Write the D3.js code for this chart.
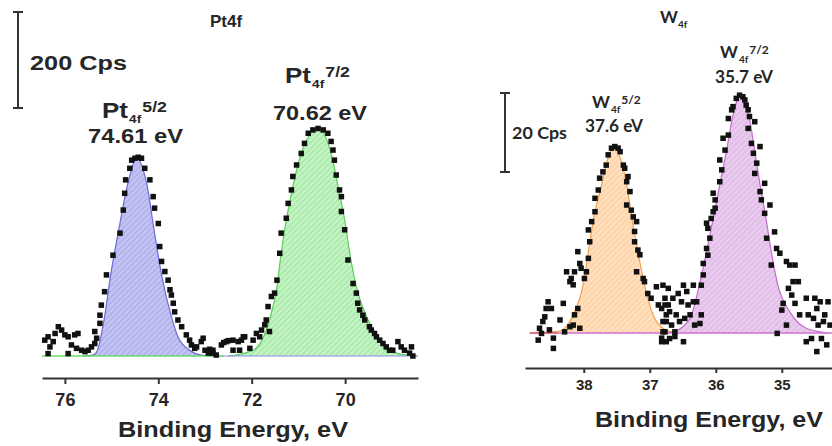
<!DOCTYPE html>
<html><head><meta charset="utf-8">
<script src="https://cdn.jsdelivr.net/npm/d3@7"></script>
<style>
body{margin:0;background:#fff;}
svg{display:block;}
text{font-family:Arial,"Liberation Sans",sans-serif;font-weight:bold;fill:#262626;}
.cal{font-family:Lato,"Open Sans",sans-serif;}
</style></head><body>
<svg id="c" width="832" height="446"></svg>
<script>
// ---------- Pt4f panel data (x: binding energy eV, y: counts above baseline, cps) ----------
const ptTicks = [76, 74, 72, 70];
const ptDomain = [76.49, 68.44];
const ptScaleBar = 200; // cps
const ptPoints = [
[76.43,33],[76.36,40],[76.32,19],[76.25,30],[76.21,47],[76.14,61],[76.07,54],[76.00,44],[75.93,40],[75.86,23],[75.79,44],[75.72,47],
[76.36,5],[75.93,5],[75.75,16],[75.64,12],[75.57,9],[75.50,12],[75.43,19],[75.36,26],[75.32,37],[75.36,51],
[75.25,68],[75.25,85],[75.22,106],[75.15,134],[75.11,169],[74.97,210],[74.82,256],[74.75,304],[74.72,339],[74.70,367],
[74.61,391],[74.57,408],[74.50,412],[74.43,414],[74.36,412],[74.29,391],[74.18,367],[74.11,332],[74.08,308],[74.00,276],
[73.97,228],[73.93,197],[73.86,176],[73.79,158],[73.75,138],[73.72,127],[73.68,110],[73.65,92],[73.58,75],[73.50,61],
[73.40,44],[73.33,33],[73.29,23],[73.22,16],[73.18,19],[73.08,30],[73.00,12],[72.93,6],[72.83,12],[72.76,2],[72.65,23],
[72.54,30],[72.40,12],[72.29,30],[72.18,40],[73.04,37],[72.90,14],[72.83,6],[72.60,28],[72.50,32],[72.40,33],[72.26,12],
[72.22,33],[72.15,40],[72.04,16],[71.97,33],[71.90,47],[71.83,40],[71.79,54],[71.72,65],[71.69,75],[71.62,51],
[71.65,103],[71.58,124],[71.51,131],[71.46,158],[71.40,214],[71.37,256],[71.26,287],[71.22,318],[71.15,346],[71.12,374],
[71.04,398],[70.94,422],[70.87,443],[70.79,464],[70.69,471],[70.58,474],[70.47,471],[70.37,464],[70.30,447],[70.26,429],
[70.23,408],[70.19,377],[70.12,346],[70.08,332],[70.08,301],[70.01,263],[69.94,200],[69.83,151],[69.76,131],[69.73,110],
[69.69,96],[69.62,85],[69.58,75],[69.48,61],[69.44,54],[69.37,47],[69.33,40],[69.26,33],[69.19,26],[69.12,19],[69.05,12],
[68.98,12],[68.87,30],[68.80,19],[68.73,12],[68.62,6],[68.58,19],[68.55,0]
];
const pt52Fit = [[75.6,0],[75.4,2],[75.32,8],[75.15,82],[75.02,169],[74.86,256],[74.65,360],[74.47,412],[74.25,360],[74.08,256],[73.93,169],[73.72,82],[73.58,40],[73.33,12],[73.08,2],[72.8,0]];
const pt72Fit = [[72.5,0],[71.97,12],[71.62,75],[71.46,144],[71.37,214],[71.26,283],[71.12,353],[70.94,422],[70.58,474],[70.30,422],[70.15,353],[70.01,283],[69.90,214],[69.76,144],[69.51,75],[69.26,33],[68.90,6],[68.45,0]];

// ---------- W4f panel data ----------
const wTicks = [38, 37, 36, 35];
const wDomain = [38.89, 34.24];
const wScaleBar = 20; // cps
const wPoints = [
[38.67,1.2],[38.62,2.9],[38.59,4.1],[38.57,6.2],[38.54,7.9],[38.49,6.2],[38.46,-1.3],[38.46,-3.9],[38.69,-1.8],[38.64,-0.1],
[38.52,0.8],[38.36,3.3],[38.31,7.5],[38.26,15.5],[38.21,13.0],[38.19,13.8],[38.16,12.2],[38.14,15.5],[38.09,20.6],[38.06,17.6],
[38.04,16.4],[38.29,0.3],[38.21,1.6],[38.16,2.0],[38.14,4.6],[38.09,6.2],[38.06,1.2],[37.99,13.8],[37.96,15.5],[37.93,18.9],
[37.91,23.1],[37.93,26.1],[37.88,28.2],[37.83,30.7],[37.83,34.1],[37.78,36.2],[37.76,39.2],[37.71,40.8],[37.66,42.5],[37.63,45.1],
[37.58,46.8],[37.53,47.2],[37.48,46.8],[37.45,45.9],[37.40,42.5],[37.38,41.7],[37.35,38.3],[37.33,39.6],[37.30,35.8],[37.35,32.4],
[37.28,31.1],[37.25,29.4],[37.20,28.2],[37.23,25.7],[37.23,23.1],[37.18,21.0],[37.15,19.8],[37.20,15.5],[37.10,13.8],[37.08,13.0],
[37.03,10.0],[36.98,8.8],[36.90,11.7],[36.87,7.1],[36.82,6.2],[36.77,8.8],[36.75,4.6],[36.72,7.1],[36.80,2.9],[36.77,0.3],
[36.75,-2.2],[36.82,-1.3],
[36.80,12.1],[36.72,11.3],[36.65,8.8],[36.57,10.0],[36.49,12.1],[36.44,10.5],[36.52,7.9],[36.42,7.1],[36.77,7.1],[36.70,5.4],
[36.60,4.6],[36.75,2.9],[36.80,0.3],[36.67,2.0],[36.62,0.3],[36.55,2.9],[36.47,3.7],[36.39,4.6],[36.34,7.9],[36.32,2.0],
[36.24,2.4],[36.82,-2.2],[36.70,-1.4],[36.62,-0.9],[36.49,-2.2],[36.34,12.1],[36.29,7.9],[36.22,4.6],[36.22,12.1],[36.19,14.7],
[36.19,17.6],[36.12,19.7],[36.14,21.4],[36.09,24.0],[36.12,26.5],[36.14,27.8],[36.07,29.0],[36.04,30.7],[36.01,31.6],[36.04,35.4],
[36.01,33.7],[35.94,38.3],[35.91,41.3],[35.94,43.8],[35.86,46.3],[35.89,49.3],[35.81,50.1],[35.81,54.3],[35.76,56.5],[35.74,57.3],
[35.69,59.4],[35.64,60.2],[35.59,59.8],[35.56,59.0],[35.54,57.7],[35.51,56.5],[35.49,54.8],[35.51,51.8],[35.41,53.5],[35.46,48.0],
[35.33,47.2],[35.43,45.5],[35.38,43.0],[35.41,40.4],[35.26,37.9],[35.33,35.8],[35.31,33.7],[35.18,32.4],[35.26,30.3],[35.23,24.0],
[35.11,25.6],[35.08,21.4],[35.03,20.2],[35.16,17.2],[34.93,18.1],[34.88,17.2],[34.80,17.2],[34.83,13.0],[34.75,13.0],[34.90,11.3],
[34.85,9.6],[34.80,7.5],[34.98,7.5],[35.00,5.8],[34.93,2.0],[35.07,-0.1],[34.73,4.6],[34.63,8.8],[34.50,8.8],[34.42,7.9],
[34.47,6.2],[34.60,4.6],[34.52,3.7],[34.35,4.6],[34.37,2.9],[34.45,2.0],[34.27,2.0],[34.63,-2.2],[34.55,-1.4],[34.40,-1.4],
[34.32,-3.0],[34.47,-4.7],[34.30,7.9]
];
const w52Fit = [[38.75,0],[38.36,0.5],[38.16,4.6],[38.01,12.2],[37.93,20.6],[37.85,29],[37.73,37.5],[37.65,43.4],[37.53,46.8],[37.43,43.4],[37.35,37.5],[37.27,29],[37.18,20.6],[37.08,12.2],[36.95,4.6],[36.80,1.2],[36.6,0]];
const w72Fit = [[36.8,0],[36.65,0.3],[36.39,3.7],[36.25,12.1],[36.14,20.6],[36.04,29],[35.94,37.5],[35.84,45.9],[35.75,54.3],[35.64,59.8],[35.49,54.3],[35.41,45.9],[35.33,37.5],[35.24,29],[35.16,20.6],[35.06,12.1],[34.88,5.4],[34.63,1.2],[34.3,0]];

const svg = d3.select('#c');
const defs = svg.append('defs');
function hatch(id, bg, line){
  const p = defs.append('pattern').attr('id', id).attr('patternUnits','userSpaceOnUse')
    .attr('width',4).attr('height',4).attr('patternTransform','rotate(45)');
  p.append('rect').attr('width',4).attr('height',4).attr('fill',bg);
  p.append('line').attr('x1',0).attr('y1',0).attr('x2',0).attr('y2',4).attr('stroke',line).attr('stroke-width',1.3);
}
hatch('hBlue','#c3c3f3','#9a9ae4');
hatch('hGreen','#c2f3c2','#8edc8e');
hatch('hOrange','#ffd6ac','#fff1e2');
hatch('hPurple','#e3c0e9','#f4e2f6');

function panel(o){
  const x = d3.scaleLinear().domain(o.domain).range(o.xr);
  const y = d3.scaleLinear().domain([0, o.bar]).range([o.base, o.base - o.barPx]);
  const g = svg.append('g');
  const area = d3.area().x(d=>x(d[0])).y0(y(0)).y1(d=>y(d[1])).curve(d3.curveMonotoneX);
  const line = d3.line().x(d=>x(d[0])).y(d=>y(d[1])).curve(d3.curveMonotoneX);
  o.fits.forEach(f=>{
    const s = f.data.slice().sort((a,b)=>a[0]-b[0]);
    g.append('path').datum(s).attr('d',area).attr('fill',`url(#${f.pat})`);
    g.append('path').datum(s).attr('d',line).attr('fill','none').attr('stroke',f.stroke).attr('stroke-width',1.2);
  });
  o.baselines.forEach(b=>{
    g.append('line').attr('x1',x(b.from)).attr('x2',x(b.to)).attr('y1',y(0)).attr('y2',y(0))
      .attr('stroke',b.color).attr('stroke-width',b.w);
  });
  g.selectAll('rect.pt').data(o.points).join('rect').attr('class','pt')
    .attr('x',d=>x(d[0])-o.ms/2).attr('y',d=>y(d[1])-o.ms/2)
    .attr('width',o.ms).attr('height',o.ms).attr('fill','#111');
  const ax = g.append('g').attr('transform',`translate(0,${o.axisY})`)
    .call(d3.axisBottom(x).tickValues(o.ticks).tickSize(o.tickSize).tickSizeOuter(0).tickPadding(o.pad).tickFormat(d3.format('d')));
  ax.select('.domain').attr('stroke','#333').attr('stroke-width',2.2);
  ax.selectAll('.tick line').attr('stroke','#333').attr('stroke-width',2);
  ax.selectAll('.tick text').attr('font-size',o.tickFont).attr('font-family','Arial, "Liberation Sans", sans-serif')
    .attr('font-weight','bold').attr('fill','#333');
  // scale bar
  const len = y(0) - y(o.bar);
  const sb = g.append('g').attr('stroke','#333').attr('stroke-width',2);
  sb.append('line').attr('x1',o.sbX).attr('x2',o.sbX).attr('y1',o.sbTop).attr('y2',o.sbTop+len);
  sb.append('line').attr('x1',o.sbX-5).attr('x2',o.sbX+5).attr('y1',o.sbTop).attr('y2',o.sbTop);
  sb.append('line').attr('x1',o.sbX-5).attr('x2',o.sbX+5).attr('y1',o.sbTop+len).attr('y2',o.sbTop+len);
  return {x,y};
}

panel({domain:ptDomain, xr:[42,418], base:356, bar:ptScaleBar, barPx:96, axisY:378,
  fits:[{data:pt52Fit,pat:'hBlue',stroke:'#6a6ad8'},{data:pt72Fit,pat:'hGreen',stroke:'#5ccc5c'}],
  baselines:[{from:72.9,to:68.44,color:'#8c8ce6',w:1.2},{from:76.49,to:72.6,color:'#66dd66',w:1.6}],
  points:ptPoints, ms:5.5, ticks:ptTicks, tickSize:6, pad:9, tickFont:18, sbX:18, sbTop:12});

panel({domain:wDomain, xr:[525,832], base:333, bar:wScaleBar, barPx:79, axisY:368,
  fits:[{data:w52Fit,pat:'hOrange',stroke:'#f2a04e'},{data:w72Fit,pat:'hPurple',stroke:'#c46ccc'}],
  baselines:[{from:38.82,to:34.24,color:'#d070d0',w:1.4},{from:38.82,to:38.4,color:'#e0604a',w:1.2}],
  points:wPoints, ms:5.5, ticks:wTicks, tickSize:5, pad:6, tickFont:15, sbX:505, sbTop:93});

// ---------- texts ----------
svg.append('text').attr('x',226).attr('y',27).attr('text-anchor','middle').attr('font-size',17).text('Pt4f');
svg.append('text').attr('x',30).attr('y',70).attr('font-size',20).attr('textLength',97).attr('lengthAdjust','spacingAndGlyphs').text('200 Cps');

function peakLabel(o){
  const t = svg.append('text').attr('class',o.cls||null)
    .attr('transform',`translate(${o.x},${o.y}) scale(${o.sx||1},1)`).attr('font-size',o.fs);
  t.append('tspan').text(o.el);
  t.append('tspan').attr('dx',1).attr('dy',o.subDy).attr('font-size',o.subFs).text('4f');
  t.append('tspan').attr('dx',1).attr('dy',o.supDy - o.subDy).attr('font-size',o.supFs).text(o.sup);
  svg.append('text').attr('class',o.cls||null).attr('x',o.ex).attr('y',o.ey).attr('font-size',o.efs)
    .attr('textLength',o.ew).attr('lengthAdjust','spacingAndGlyphs').text(o.energy);
}
peakLabel({el:'Pt',x:102,y:118,sx:1.18,fs:22,subDy:5,subFs:11.5,supDy:-6,supFs:15,sup:'5/2',
  energy:'74.61 eV',ex:88,ey:143,efs:20,ew:95});
peakLabel({el:'Pt',x:285,y:83,sx:1.18,fs:22,subDy:5,subFs:11.5,supDy:-6,supFs:15,sup:'7/2',
  energy:'70.62 eV',ex:273,ey:120,efs:20,ew:94});

// W panel
const wt = svg.append('text').attr('class','cal').attr('x',660).attr('y',23).attr('font-size',17);
wt.append('tspan').text('W');
wt.append('tspan').attr('dy',5).attr('font-size',10).text('4f');
svg.append('text').attr('class','cal').attr('x',512).attr('y',139).attr('font-size',17)
  .attr('textLength',55).attr('lengthAdjust','spacingAndGlyphs').text('20 Cps');
peakLabel({cls:'cal',el:'W',x:592,y:108,fs:17,subDy:5,subFs:10,supDy:-4,supFs:12,sup:'5/2',
  energy:'37.6 eV',ex:585,ey:132,efs:16.5,ew:58});
peakLabel({cls:'cal',el:'W',x:720,y:58,fs:17,subDy:5,subFs:10,supDy:-4,supFs:12,sup:'7/2',
  energy:'35.7 eV',ex:715,ey:83,efs:16.5,ew:58});

svg.append('text').attr('x',233).attr('y',437).attr('text-anchor','middle').attr('font-size',22)
  .attr('textLength',230).attr('lengthAdjust','spacingAndGlyphs').text('Binding Energy, eV');
svg.append('text').attr('x',709).attr('y',427).attr('text-anchor','middle').attr('font-size',22)
  .attr('textLength',228).attr('lengthAdjust','spacingAndGlyphs').text('Binding Energy, eV');
</script>
</body></html>
